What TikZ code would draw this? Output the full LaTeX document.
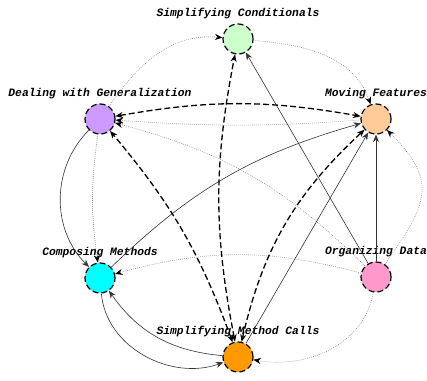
\documentclass[tikz,border=0pt]{standalone}
\usepackage{fontspec}
\setmonofont{Liberation Mono}
\usetikzlibrary{arrows.meta,positioning}

\begin{document}
\begin{tikzpicture}
        [x=1pt,y=1pt,
         topic/.style={circle, draw, line width=1.2pt, dash pattern=on 6pt off 3pt,
                       minimum size=30pt, inner sep=0pt},
         lbl/.style={anchor=base, inner sep=0pt,
                     font=\fontsize{11.3}{13}\selectfont\ttfamily\bfseries\itshape},
         dep/.style={-{Stealth[length=7.5pt,width=6pt]}, draw=black!80, line width=0.6pt},
         weak/.style={-{Stealth[length=7.5pt,width=6pt,color=black]}, draw=gray,
                      line width=0.6pt, dash pattern=on 0.7pt off 1.3pt},
         strong/.style={{Stealth[length=7.5pt,width=6pt]}-{Stealth[length=7.5pt,width=6pt]},
                        line width=1.3pt, dash pattern=on 6pt off 3pt}]
        %\draw[help lines] (0,0) grid[step=20] (427,380);
        \useasboundingbox (0,0) rectangle (427,380);
        \node[topic, fill={rgb,255:red,204;green,255;blue,204}] (sc) at (238,341) {};
        \node[topic, fill={rgb,255:red,255;green,204;blue,153}] (mf) at (376,261) {};
        \node[topic, fill={rgb,255:red,204;green,153;blue,255}] (dg) at (100,261) {};
        \node[topic, fill={rgb,255:red,0;green,255;blue,255}] (cm) at (100,102) {};
        \node[topic, fill={rgb,255:red,255;green,153;blue,204}] (od) at (376,103) {};
        \node[topic, fill={rgb,255:red,255;green,153;blue,0}] (smc) at (238,23) {};
        \node[lbl] (sc-l) at ([yshift=22.5pt]sc.center) {Simplifying Conditionals};
        \node[lbl] (mf-l) at ([yshift=22.5pt]mf.center) {Moving Features};
        \node[lbl] (dg-l) at ([yshift=22.5pt]dg.center) {Dealing with Generalization};
        \node[lbl] (cm-l) at ([yshift=22.5pt]cm.center) {Composing Methods};
        \node[lbl] (od-l) at ([yshift=22.5pt]od.center) {Organizing Data};
        \node[lbl] (smc-l) at ([yshift=22.5pt]smc.center) {Simplifying Method Calls};
        % dotted links
        \draw[weak] (dg) to[out=55,in=175] (sc);
        \draw[weak] (sc) to[out=-5,in=110] (mf);
        \draw[weak] (mf) to[bend left=4] (dg);
        \draw[weak] (od) to[bend right=15] (dg);
        \draw[weak] (dg) to[bend right=8] (cm);
        \draw[weak] (od) to[bend right=15] (cm);
        \draw[weak] (od) to[out=-100,in=-10] (smc);
        \draw[weak] (od) to[out=55,in=-45,looseness=1.4] (mf);
        % solid links
        \draw[dep] (od) -- (sc);
        \draw[dep] (od) -- (mf);
        \draw[dep] (cm) to[bend left=14] (mf);
        \draw[dep] (smc) -- (mf);
        \draw[dep] (dg) to[bend right=45] (cm);
        \draw[dep] (smc) to[out=175,in=-55] (cm);
        \draw[dep] (cm) to[out=-85,in=200] (smc);
        % dashed links
        \draw[strong] (dg) to[bend left=10] (mf);
        \draw[strong] (smc) to[bend left=11] (sc);
        \draw[strong] (smc) to[bend left=17] (mf);
        \draw[strong] (smc) to[bend right=10] (dg);
\end{tikzpicture}
\end{document}
